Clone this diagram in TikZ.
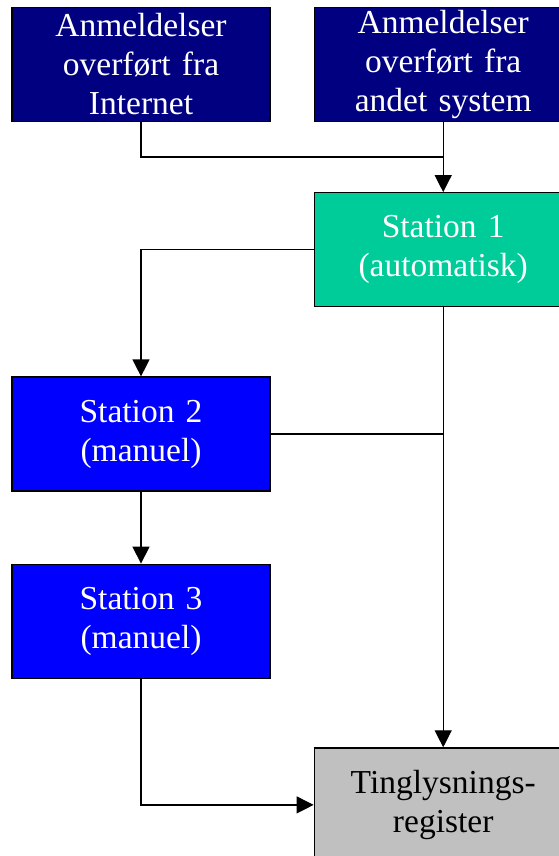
\documentclass[tikz,border=0pt]{standalone}
\usepackage{fontspec}
\setmainfont{Liberation Serif}
\usepackage{xcolor}
\usetikzlibrary{arrows.meta, positioning}
\definecolor{darknavy}{HTML}{000080}
\definecolor{autogreen}{HTML}{00CC99}
\definecolor{manualblue}{HTML}{0000FF}
\definecolor{registergray}{HTML}{C0C0C0}

\begin{document}
\begin{tikzpicture}[
    x=1pt, y=-1pt,
    every node/.style={
        draw=black,
        line width=1.2pt,
        minimum height=114pt,
        minimum width=258pt,
        text width=250pt,
        inner sep=0pt,
        align=center,
        font=\fontsize{33.5}{39}\selectfont},
    >={Triangle[length=17pt,width=17pt]},
    line width=1.2pt]
    \clip (0,0) rectangle (559,856);
    \fill[white] (0,0) rectangle (559,856);

    \node[fill=darknavy, text=white] (internet) at (141,64.5) {Anmeldelser\\ overført fra\\ Internet};
    \node[fill=darknavy, text=white, right=43pt of internet] (andet) {Anmeldelser\\ overført fra\\ andet system};
    \node[fill=autogreen, text=white, below=70pt of andet] (station1) {Station 1\\ (automatisk)};
    \node[fill=manualblue, text=white] (station2) at (141,434) {Station 2\\ (manuel)};
    \node[fill=manualblue, text=white, below=72pt of station2] (station3) {Station 3\\ (manuel)};
    \node[fill=registergray, text=black, below=440pt of station1] (register) {Tinglysnings-\\ register};

    \coordinate (join) at (andet.south |- 0,157);
    \draw (internet.south) |- (join);
    \draw[->] (andet.south) -- (station1.north);
    \draw[->] (station1.west) -| (station2.north);
    \draw[->] (station1.south) -- (register.north);
    \draw (station2.east) -- (station2.east -| station1.south);
    \draw[->] (station2) -- (station3);
    \draw[->] (station3.south) |- (register.west);
\end{tikzpicture}
\end{document}
